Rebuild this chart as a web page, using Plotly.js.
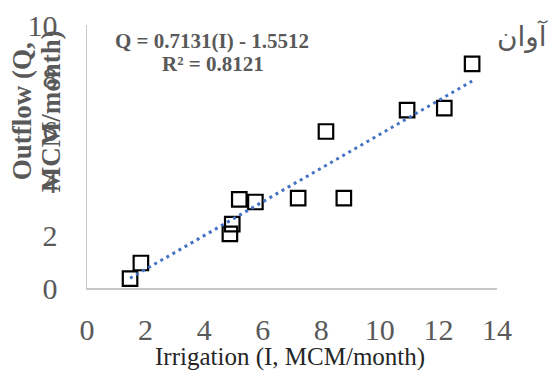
<!DOCTYPE html>
<html>
<head>
<meta charset="utf-8">
<script src="https://cdn.plot.ly/plotly-3.0.1.min.js"></script>
<style>
  html, body { margin: 0; padding: 0; background: #ffffff; }
  #chart { width: 550px; height: 373px; }
</style>
</head>
<body>
<div id="chart"></div>
<script>
// Data
const irrigation = [1.47, 1.84, 4.88, 4.96, 5.20, 5.75, 7.21, 8.77, 8.16, 10.93, 12.20, 13.15];
const outflow    = [0.36, 0.95, 2.06, 2.43, 3.37, 3.27, 3.42, 3.42, 5.95, 6.76, 6.84, 8.52];
const xTickVals = [0, 2, 4, 6, 8, 10, 12, 14];
const yTickVals = [0, 2, 4, 6, 8, 10];
const equationText = "Q = 0.7131(I) - 1.5512";
const r2Text = "R² = 0.8121";
const placeLabel = "آوان";
const xTitle = "Irrigation (I, MCM/month)";
const yTitleLine1 = "Outflow (Q,";
const yTitleLine2 = "MCM/month)";

// Linear least-squares trendline from the data
const n = irrigation.length;
const mx = irrigation.reduce((a, b) => a + b, 0) / n;
const my = outflow.reduce((a, b) => a + b, 0) / n;
let sxy = 0, sxx = 0;
for (let i = 0; i < n; i++) {
  sxy += (irrigation[i] - mx) * (outflow[i] - my);
  sxx += (irrigation[i] - mx) ** 2;
}
const slope = sxy / sxx;
const intercept = my - slope * mx;
const xMin = Math.min(...irrigation), xMax = Math.max(...irrigation);
const trendX = [xMin, xMax];
const trendY = trendX.map(x => slope * x + intercept);

const serif = "Liberation Serif, Times New Roman, serif";
const gray = "#595959";

const traces = [
  {
    x: irrigation, y: outflow, type: "scatter", mode: "markers",
    marker: { symbol: "square-open", size: 14.5, color: "#000000", line: { width: 2.2, color: "#000000" } },
    hoverinfo: "skip", showlegend: false
  },
  {
    x: trendX, y: trendY, type: "scatter", mode: "lines",
    line: { color: "#4472C4", width: 3, dash: "3px,4px" },
    hoverinfo: "skip", showlegend: false
  }
];

const layout = {
  width: 550, height: 373,
  margin: { l: 87, r: 53, t: 25, b: 85 },
  paper_bgcolor: "#ffffff", plot_bgcolor: "#ffffff",
  showlegend: false,
  xaxis: {
    range: [0, 14], tickvals: xTickVals, ticktext: xTickVals.map(String),
    showgrid: false, zeroline: false, showline: true, linecolor: "#C8C8C8", linewidth: 1.5,
    ticks: "", ticklabelstandoff: 14,
    tickfont: { family: serif, size: 30, color: gray }
  },
  yaxis: {
    range: [0, 10], tickvals: yTickVals, ticktext: yTickVals.map(String),
    showgrid: false, zeroline: false, showline: true, linecolor: "#C8C8C8", linewidth: 1.5,
    ticks: "", ticklabelstandoff: 22,
    tickfont: { family: serif, size: 30, color: gray }
  },
  annotations: [
    { text: "<b>" + equationText + "</b>", xref: "paper", yref: "paper", x: 0.306, y: 0.939,
      xanchor: "center", yanchor: "middle", showarrow: false,
      font: { family: serif, size: 21, color: gray } },
    { text: "<b>" + r2Text + "</b>", xref: "paper", yref: "paper", x: 0.308, y: 0.852,
      xanchor: "center", yanchor: "middle", showarrow: false,
      font: { family: serif, size: 21, color: gray } },
    { text: placeLabel, xref: "paper", yref: "paper", x: 1.063, y: 0.955,
      xanchor: "center", yanchor: "middle", showarrow: false,
      font: { family: "DejaVu Sans, sans-serif", size: 28, color: gray } },
    { text: xTitle, xref: "paper", yref: "paper", x: 0.495, y: -0.262,
      xanchor: "center", yanchor: "middle", showarrow: false,
      font: { family: serif, size: 25, color: "#262626" } },
    { text: "<b>" + yTitleLine1 + "</b>", xref: "paper", yref: "paper", x: -0.158, y: 0.673,
      xanchor: "center", yanchor: "middle", showarrow: false, textangle: -90,
      font: { family: serif, size: 27, color: gray } },
    { text: "<b>" + yTitleLine2 + "</b>", xref: "paper", yref: "paper", x: -0.087, y: 0.673,
      xanchor: "center", yanchor: "middle", showarrow: false, textangle: -90,
      font: { family: serif, size: 27, color: gray } }
  ]
};

Plotly.newPlot("chart", traces, layout, { staticPlot: true, displayModeBar: false });
</script>
</body>
</html>
